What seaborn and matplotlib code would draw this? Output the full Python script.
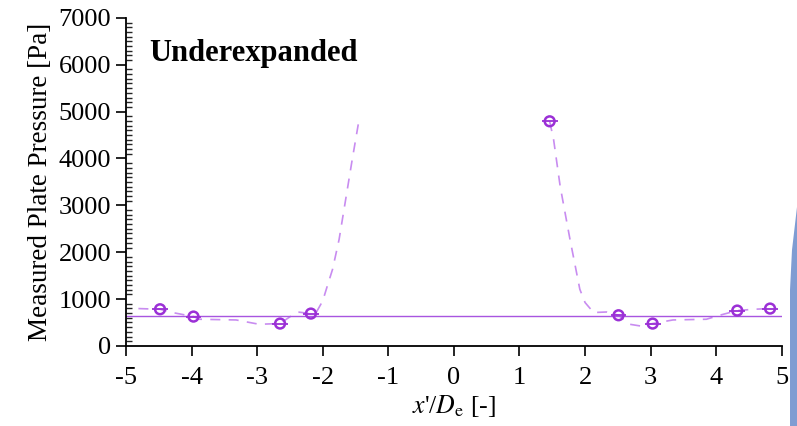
import numpy as np
import pandas as pd
import matplotlib
matplotlib.use('Agg')
import matplotlib.pyplot as plt
from matplotlib.patches import Polygon
import seaborn as sns

# measured points (x'/De, Pa)
meas_x = [-4.48, -3.97, -2.65, -2.18, 1.46, 2.51, 3.03, 4.32, 4.82]
meas_p = [782, 626, 477, 690, 4793, 654, 477, 754, 797]

# dashed fit curve (two branches)
fit_left_x = [-4.81, -4.48, -4.29, -3.97, -3.88, -3.32, -2.97, -2.65, -2.48, -2.36,
              -2.18, -2.10, -2.00, -1.93, -1.85, -1.75, -1.65, -1.55, -1.45]
fit_left_p = [797, 782, 712, 626, 569, 554, 462, 477, 640, 720,
              690, 712, 959, 1278, 1634, 2273, 3125, 3977, 4793]
fit_right_x = [1.46, 1.52, 1.62, 1.77, 1.87, 1.92, 2.00, 2.13, 2.33, 2.51,
               2.68, 2.84, 3.03, 3.34, 3.85, 4.05, 4.32, 4.57, 4.82]
fit_right_p = [4793, 4404, 3409, 2273, 1564, 1208, 925, 712, 724, 654,
               462, 426, 477, 554, 569, 654, 754, 782, 797]

ambient = 639
label_text = 'Underexpanded'

sns.set_theme(style='ticks')
plt.rcParams['font.family'] = ['Liberation Serif', 'DejaVu Serif']
plt.rcParams['mathtext.fontset'] = 'stix'
plt.rcParams['axes.unicode_minus'] = False
plt.rcParams['text.color'] = 'black'
plt.rcParams['axes.labelcolor'] = 'black'

C_MARK = '#9b30d6'
C_DASH = '#c88cf0'
C_LINE = '#a855e0'

fig = plt.figure(figsize=(7.97, 4.26), dpi=100)
ax = fig.add_axes([0.158, 0.188, 0.823, 0.770])

fit = pd.concat([
    pd.DataFrame({'x': fit_left_x, 'p': fit_left_p, 'branch': 'L'}),
    pd.DataFrame({'x': fit_right_x, 'p': fit_right_p, 'branch': 'R'}),
])
sns.lineplot(data=fit, x='x', y='p', units='branch', estimator=None, sort=False,
             color=C_DASH, lw=1.2, dashes=False, ax=ax)
for ln in ax.lines:
    ln.set_dashes((6, 5))

ax.axhline(ambient, color=C_LINE, lw=1.0, zorder=2)

ax.errorbar(meas_x, meas_p, xerr=0.12, fmt='none', ecolor=C_MARK, elinewidth=1.3, zorder=3)
sns.scatterplot(x=meas_x, y=meas_p, marker='o', s=50, facecolors='none',
                edgecolor=C_MARK, linewidth=1.8, ax=ax, zorder=4)

ax.set_xlim(-5, 5)
ax.set_ylim(0, 7000)
ax.set_xticks(np.arange(-5, 6, 1))
ax.set_yticks(np.arange(0, 7001, 1000))
ax.yaxis.set_minor_locator(matplotlib.ticker.MultipleLocator(100))
ax.tick_params(axis='both', which='major', direction='out', length=7, width=1.2,
               labelsize=19, color='black', labelcolor='black')
ax.tick_params(axis='x', which='major', pad=8)
ax.tick_params(axis='y', which='minor', direction='in', length=4, width=1.0, left=True)
for s in ['top', 'right']:
    ax.spines[s].set_visible(False)
for s in ['left', 'bottom']:
    ax.spines[s].set_color('black')
    ax.spines[s].set_linewidth(1.3)

ax.set_xlabel(r"$x$'/$D_\mathrm{e}$ [-]", fontsize=18.5, labelpad=3)
ax.set_ylabel('Measured Plate Pressure [Pa]', fontsize=19.5, labelpad=4)
ax.text(0.035, 0.935, label_text, transform=ax.transAxes, fontsize=22,
        fontweight='bold', va='top', ha='left', color='black')

# slide decoration at the right edge
W, H = 797, 426
pts = [(797, 207), (792, 250), (790, 290), (790, 426), (797, 426)]
fig.patches.append(Polygon([(x / W, 1 - y / H) for x, y in pts], closed=True,
                           transform=fig.transFigure, facecolor='#7f9cd2',
                           edgecolor='none'))

fig.savefig('out.png', dpi=100)
